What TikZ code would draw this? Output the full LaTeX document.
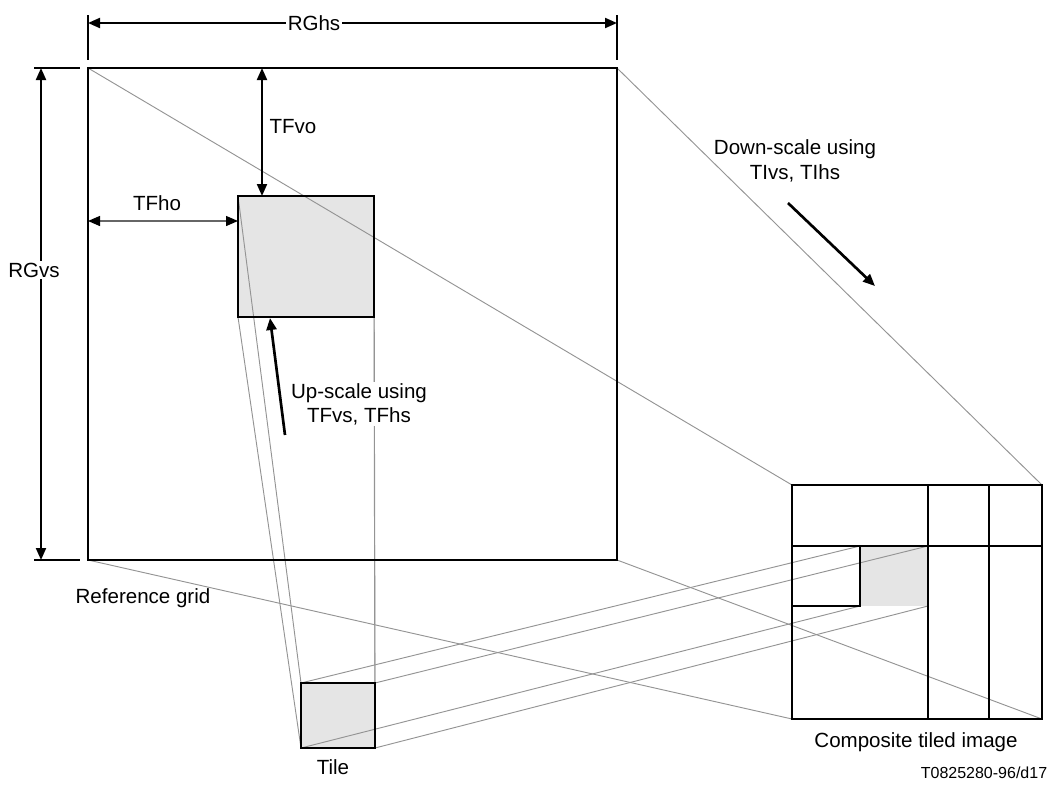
\documentclass[tikz,border=0pt]{standalone}
\usepackage{fontspec}
\setmainfont{Liberation Sans}
\usetikzlibrary{arrows.meta}
\begin{document}
\begin{tikzpicture}[x=0.75pt,y=-0.75pt,
  >={Triangle[length=9pt,width=7.5pt]},
  rim/.style={line width=1.8pt, draw=black},
  grid/.style={line width=2pt, draw=black},
  proj/.style={line width=0.7pt, draw=black!42},
  dimline/.style={line width=1.5pt, draw=black, <->},
  extline/.style={line width=0.9pt, draw=black},
  thinarrow/.style={line width=1pt, draw=black!60,
     {Triangle[length=9pt,width=7.5pt,color=black,fill=black]}-{Triangle[length=9pt,width=7.5pt,color=black,fill=black]}},
  bigarrow/.style={line width=2pt, draw=black, ->},
  lbl/.style={font=\fontsize{15.4}{18}\selectfont, inner sep=1pt},
  smalllbl/.style={font=\fontsize{12}{14}\selectfont, inner sep=1pt},
  tilefill/.style={fill=black!10}
]
\useasboundingbox (0,0) rectangle (1050,796);

% corners
\coordinate (rgTL) at (88,68);   \coordinate (rgTR) at (617,68);
\coordinate (rgBL) at (88,560);  \coordinate (rgBR) at (617,560);
\coordinate (rtTL) at (238,196); \coordinate (rtTR) at (374,196);
\coordinate (rtBL) at (238,317); \coordinate (rtBR) at (374,317);
\coordinate (stTL) at (301,683); \coordinate (stTR) at (375,683);
\coordinate (stBL) at (301,748); \coordinate (stBR) at (375,748);
\coordinate (ctTL) at (792,485); \coordinate (ctTR) at (1042,485);
\coordinate (ctBL) at (792,719); \coordinate (ctBR) at (1042,719);
\coordinate (ccTL) at (860,546); \coordinate (ccTR) at (928,546);
\coordinate (ccBL) at (860,606); \coordinate (ccBR) at (928,606);

% fills
\fill[tilefill] (rtTL) rectangle (rtBR);
\fill[tilefill] (stTL) rectangle (stBR);
\fill[tilefill] (ccTL) rectangle (ccBR);

% projection lines
\draw[proj] (rgTL) -- (ctTL);
\draw[proj] (rgTR) -- (ctTR);
\draw[proj] (rgBL) -- (ctBL);
\draw[proj] (rgBR) -- (ctBR);
\draw[proj] (rtTL) -- (stTL);
\draw[proj] (rtBL) -- (stBL);
\draw[proj] (rtTR) -- (stTR);
\draw[proj] (rtBR) -- (stBR);
\draw[proj] (stTL) -- (ccTL);
\draw[proj] (stTR) -- (ccTR);
\draw[proj] (stBL) -- (ccBL);
\draw[proj] (stBR) -- (ccBR);

% reference grid and tiles
\draw[rim] (rgTL) rectangle (rgBR);
\draw[rim] (rtTL) rectangle (rtBR);
\draw[rim] (stTL) rectangle (stBR);

% composite tiled image
\draw[grid] (ctTL) rectangle (ctBR);
\coordinate (v1t) at (928,485); \coordinate (v1b) at (928,719);
\coordinate (v2t) at (989,485); \coordinate (v2b) at (989,719);
\coordinate (h1l) at (792,546); \coordinate (h1r) at (1042,546);
\coordinate (h2l) at (792,606);
\draw[grid] (v1t) -- (v1b);
\draw[grid] (v2t) -- (v2b);
\draw[grid] (h1l) -- (h1r);
\draw[grid] (ccTL) -- (ccBL) -- (h2l);

% RGhs dimension
\coordinate (exL1) at (88,15);  \coordinate (exL2) at (88,60);
\coordinate (exR1) at (617,15); \coordinate (exR2) at (617,60);
\draw[extline] (exL1) -- (exL2);
\draw[extline] (exR1) -- (exR2);
\coordinate (hsL) at (88,23); \coordinate (hsR) at (617,23);
\draw[dimline] (hsL) -- (hsR);
\node[lbl, fill=white] (rghs) at (314,23) {RGhs};

% RGvs dimension
\coordinate (exT1) at (34,68);  \coordinate (exT2) at (80,68);
\coordinate (exB1) at (34,560); \coordinate (exB2) at (80,560);
\draw[extline] (exT1) -- (exT2);
\draw[extline] (exB1) -- (exB2);
\coordinate (vsT) at (41,68); \coordinate (vsB) at (41,560);
\draw[dimline] (vsT) -- (vsB);
\node[lbl, fill=white] (rgvs) at (34,270) {RGvs};

% TFvo / TFho
\coordinate (voT) at (262,68); \coordinate (voB) at (262,196);
\draw[dimline] (voT) -- (voB);
\node[lbl] (tfvo) at (293,127) {TFvo};
\coordinate (hoL) at (88,221); \coordinate (hoR) at (238,221);
\draw[thinarrow] (hoL) -- (hoR);
\node[lbl] (tfho) at (157,203) {TFho};

% up-scale
\node[lbl, fill=white, align=center, font=\fontsize{15.4}{18}\selectfont] (up) at (359,404) {Up-scale using\\TFvs, TFhs};
\coordinate (upS) at (285,435); \coordinate (upE) at (270,318);
\draw[bigarrow] (upS) -- (upE);

% down-scale
\node[lbl, align=center, font=\fontsize{15.4}{18.75}\selectfont] (down) at (795,161) {Down-scale using\\TIvs, TIhs};
\coordinate (dnS) at (788,203); \coordinate (dnE) at (875,286);
\draw[bigarrow] (dnS) -- (dnE);

% captions
\node[lbl] (refgrid) at (143,598) {Reference grid};
\node[lbl] (tile) at (333,767) {Tile};
\node[lbl] (comp) at (916,742) {Composite tiled image};
\node[smalllbl] (code) at (984,773) {T0825280-96/d17};
\end{tikzpicture}
\end{document}
